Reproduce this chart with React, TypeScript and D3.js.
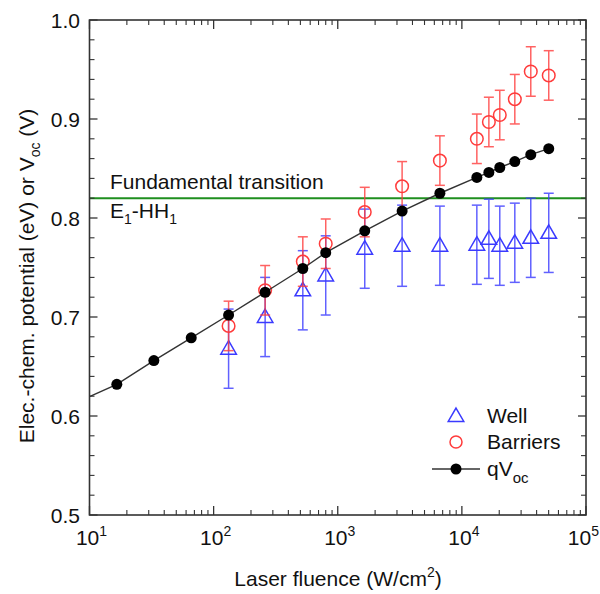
import React from "react";
import * as d3 from "d3";

// ---- data ----
const fluence = [16.6, 33, 66, 132, 260, 523, 800, 1650, 3300, 6650, 13200, 16500, 20200, 26700, 35900, 50100];
const qVoc = [0.632, 0.656, 0.679, 0.702, 0.725, 0.749, 0.765, 0.787, 0.807, 0.825, 0.841, 0.846, 0.851, 0.857, 0.864, 0.870];
// fit line starts at the left axis edge
const fitStart = { f: 10, v: 0.6195 };

const exFluence = [132, 260, 523, 800, 1650, 3300, 6650, 13200, 16500, 20200, 26700, 35900, 50100];
const barriers = [0.691, 0.727, 0.756, 0.774, 0.806, 0.832, 0.858, 0.880, 0.897, 0.904, 0.920, 0.948, 0.944];
const barriersErr = [0.025, 0.025, 0.025, 0.025, 0.025, 0.025, 0.025, 0.025, 0.025, 0.025, 0.025, 0.025, 0.025];
const well = [0.668, 0.700, 0.727, 0.742, 0.769, 0.772, 0.772, 0.773, 0.779, 0.772, 0.775, 0.780, 0.785];
const wellErr = [0.040, 0.040, 0.040, 0.040, 0.040, 0.041, 0.040, 0.040, 0.040, 0.040, 0.040, 0.040, 0.040];

const transitionLevel = 0.82;
const yTicks = [0.5, 0.6, 0.7, 0.8, 0.9, 1.0];
const xDecades = [1, 2, 3, 4, 5];

const FONT = "'Liberation Sans', Arial, sans-serif";
const FS = 21;

export default function App() {
  const W = 600, H = 594;
  const L = 89.5, R = 586, T = 20, B = 515;
  const x = d3.scaleLog().domain([10, 1e5]).range([L, R]);
  const y = d3.scaleLinear().domain([0.5, 1.0]).range([B, T]);

  const axisColor = "#333";
  const blue = "#3a3aff";
  const red = "#ff3b3b";

  // minor ticks
  const yMinor = d3.range(0.5, 1.0001, 0.02).filter((v) => Math.abs(v * 10 - Math.round(v * 10)) > 1e-6);
  const xMinor: number[] = [];
  for (let d = 1; d < 5; d++) for (let m = 2; m <= 9; m++) xMinor.push(m * Math.pow(10, d));

  const lineGen = d3.line<[number, number]>().x((d) => x(d[0])).y((d) => y(d[1]));
  const fitPts: [number, number][] = [[fitStart.f, fitStart.v], ...fluence.map((f, i) => [f, qVoc[i]] as [number, number])];

  const tri = d3.symbol().type(d3.symbolTriangle).size(105)() as string;

  const errBar = (f: number, v: number, e: number, color: string, key: string) => {
    const cx = x(f);
    const y1 = y(v + e), y2 = y(v - e);
    return (
      <g key={key} stroke={color} strokeWidth={1.5} opacity={0.8}>
        <line x1={cx} x2={cx} y1={y1} y2={y2} />
        <line x1={cx - 5} x2={cx + 5} y1={y1} y2={y1} />
        <line x1={cx - 5} x2={cx + 5} y1={y2} y2={y2} />
      </g>
    );
  };

  return (
    <svg width={W} height={H} style={{ position: "absolute", left: 0, top: 0, background: "#fff" }} fontFamily={FONT}>
      <rect x={0} y={0} width={W} height={H} fill="#fff" />

      {/* green transition line */}
      <line x1={L} x2={R} y1={y(transitionLevel)} y2={y(transitionLevel)} stroke="#1f8f1f" strokeWidth={2} />
      <text x={110} y={189} fontSize={FS} fill="#111">Fundamental transition</text>
      <text x={110} y={218} fontSize={FS} fill="#111">
        E<tspan fontSize={14} dy={6}>1</tspan>
        <tspan dy={-6}>-HH</tspan>
        <tspan fontSize={14} dy={6}>1</tspan>
      </text>

      {/* well error bars + markers */}
      {exFluence.map((f, i) => errBar(f, well[i], wellErr[i], blue, "we" + i))}
      {exFluence.map((f, i) => (
        <path key={"wm" + i} d={tri} transform={`translate(${x(f)},${y(well[i]) + 1})`} fill="none" stroke={blue} strokeWidth={1.5} />
      ))}

      {/* barrier error bars + markers */}
      {exFluence.map((f, i) => errBar(f, barriers[i], barriersErr[i], red, "be" + i))}
      {exFluence.map((f, i) => (
        <circle key={"bm" + i} cx={x(f)} cy={y(barriers[i])} r={6.3} fill="none" stroke={red} strokeWidth={1.5} />
      ))}

      {/* qVoc line & dots */}
      <path d={lineGen(fitPts) as string} fill="none" stroke="#333" strokeWidth={1.4} />
      {fluence.map((f, i) => (
        <circle key={"q" + i} cx={x(f)} cy={y(qVoc[i])} r={5.5} fill="#000" />
      ))}

      {/* frame */}
      <rect x={L} y={T} width={R - L} height={B - T} fill="none" stroke={axisColor} strokeWidth={1.6} />

      {/* y ticks */}
      {yTicks.map((v) => (
        <g key={"yt" + v} stroke={axisColor} strokeWidth={1.3}>
          <line x1={L} x2={L + 8} y1={y(v)} y2={y(v)} />
          <line x1={R} x2={R - 8} y1={y(v)} y2={y(v)} />
        </g>
      ))}
      {yMinor.map((v) => (
        <g key={"ym" + v} stroke={axisColor} strokeWidth={1.1}>
          <line x1={L} x2={L + 5} y1={y(v)} y2={y(v)} />
          <line x1={R} x2={R - 5} y1={y(v)} y2={y(v)} />
        </g>
      ))}
      {yTicks.map((v) => (
        <text key={"yl" + v} x={80} y={y(v)} dy="0.36em" textAnchor="end" fontSize={FS} fill="#111">
          {v.toFixed(1)}
        </text>
      ))}

      {/* x ticks */}
      {xDecades.map((d) => {
        const xx = x(Math.pow(10, d));
        return (
          <g key={"xt" + d} stroke={axisColor} strokeWidth={1.3}>
            <line x1={xx} x2={xx} y1={B} y2={B - 9} />
            <line x1={xx} x2={xx} y1={T} y2={T + 9} />
          </g>
        );
      })}
      {xMinor.map((v) => (
        <g key={"xm" + v} stroke={axisColor} strokeWidth={1.1}>
          <line x1={x(v)} x2={x(v)} y1={B} y2={B - 5} />
          <line x1={x(v)} x2={x(v)} y1={T} y2={T + 5} />
        </g>
      ))}
      {xDecades.map((d, i) => {
        const last = i === xDecades.length - 1;
        return (
          <text
            key={"xl" + d}
            x={last ? W - 1 : x(Math.pow(10, d)) + 2}
            y={545}
            textAnchor={last ? "end" : "middle"}
            fontSize={FS}
            fill="#111"
          >
            10<tspan fontSize={14} dy={-9}>{d}</tspan>
          </text>
        );
      })}

      {/* axis titles */}
      <text x={338} y={586} textAnchor="middle" fontSize={FS} fill="#111">
        Laser fluence (W/cm<tspan fontSize={14} dy={-9}>2</tspan>
        <tspan dy={9}>)</tspan>
      </text>
      <text transform="translate(34,276) rotate(-90)" textAnchor="middle" fontSize={FS} fill="#111">
        Elec.-chem. potential (eV) or V<tspan fontSize={14} dy={6}>oc</tspan>
        <tspan dy={-6}> (V)</tspan>
      </text>

      {/* legend */}
      <path d={tri} transform="translate(456,417)" fill="none" stroke={blue} strokeWidth={1.5} />
      <text x={487} y={423} fontSize={FS} fill="#111">Well</text>
      <circle cx={456} cy={442} r={6} fill="none" stroke={red} strokeWidth={1.5} />
      <text x={487} y={449} fontSize={FS} fill="#111">Barriers</text>
      <line x1={432} x2={480} y1={469} y2={469} stroke="#333" strokeWidth={1.4} />
      <circle cx={456} cy={469} r={5.5} fill="#000" />
      <text x={487} y={476} fontSize={FS} fill="#111">
        qV<tspan fontSize={15} dy={7}>oc</tspan>
      </text>
    </svg>
  );
}
